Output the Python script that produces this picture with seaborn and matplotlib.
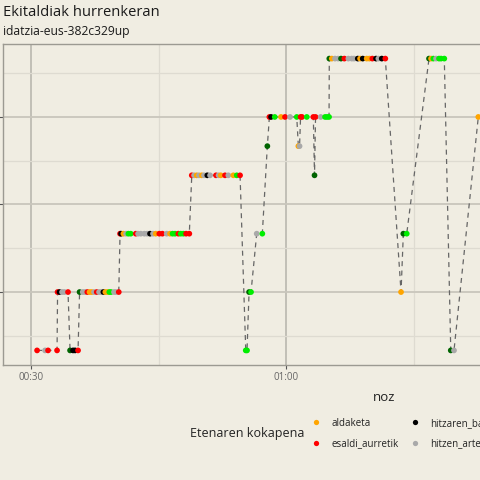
import matplotlib
matplotlib.use("Agg")
import matplotlib.pyplot as plt
import seaborn as sns
import pandas as pd
from matplotlib.ticker import FixedLocator, FuncFormatter, NullFormatter
from matplotlib.lines import Line2D

# ---- data (seconds since start, level, category code) ----
times = [
    30.71, 31.65, 32.0, 33.06,
    33.12, 33.35, 33.65, 33.94, 34.35,
    34.59, 34.94, 35.18, 35.53,
    35.71, 36.08, 36.35, 36.62, 36.88, 37.14, 37.41, 37.73, 38.0, 38.24, 38.51, 38.74, 39.0, 39.21, 39.41, 39.76, 40.0, 40.32,
    40.47, 40.59, 40.86, 41.18, 41.45, 41.73, 42.32, 42.59, 42.91, 43.33, 43.65, 44.0, 44.35, 44.67, 45.09, 45.45, 45.96, 46.35, 46.65, 46.94, 47.33, 47.61, 47.92, 48.24, 48.62,
    48.91, 49.18, 49.49, 49.76, 50.08, 50.35, 50.74, 51.06, 51.76, 52.06, 52.32, 52.82, 53.21, 53.8, 54.2, 54.59,
    55.26, 55.41,
    55.65, 55.88,
    56.55, 57.21,
    57.8,
    58.04, 58.24, 58.67, 59.41, 59.88, 60.47, 61.26,
    61.45, 61.59,
    61.71, 61.88, 62.44, 63.21,
    63.35,
    63.47, 64.08, 64.59, 64.82, 65.06,
    65.09, 65.38, 65.76, 66.12, 66.47, 66.86, 67.33, 67.73, 68.0, 68.44, 68.71, 69.02, 69.49, 69.8, 70.15, 70.59, 70.86, 71.26, 71.68,
    73.53,
    73.8, 74.2,
    76.82, 77.06, 77.33, 77.65, 78.0, 78.24, 78.62,
    79.38, 79.76,
    82.62,
]
levels = [
    1, 1, 1, 1,
    2, 2, 2, 2, 2,
    1, 1, 1, 1,
    2, 2, 2, 2, 2, 2, 2, 2, 2, 2, 2, 2, 2, 2, 2, 2, 2, 2,
    3, 3, 3, 3, 3, 3, 3, 3, 3, 3, 3, 3, 3, 3, 3, 3, 3, 3, 3, 3, 3, 3, 3, 3, 3,
    4, 4, 4, 4, 4, 4, 4, 4, 4, 4, 4, 4, 4, 4, 4, 4,
    1, 1,
    2, 2,
    3, 3,
    4.5,
    5, 5, 5, 5, 5, 5, 5,
    4.5, 4.5,
    5, 5, 5, 5,
    4,
    5, 5, 5, 5, 5,
    6, 6, 6, 6, 6, 6, 6, 6, 6, 6, 6, 6, 6, 6, 6, 6, 6, 6, 6,
    2,
    3, 3,
    6, 6, 6, 6, 6, 6, 6,
    1, 1,
    5,
]
codes = [
    "E", "T", "E", "E",
    "E", "B", "T", "T", "E",
    "P", "B", "B", "E",
    "P", "T", "T", "E", "A", "A", "T", "E", "T", "T", "B", "A", "A", "G", "G", "T", "T", "E",
    "E", "B", "A", "T", "G", "G", "E", "T", "T", "T", "T", "B", "T", "A", "E", "E", "T", "A", "G", "G", "E", "G", "G", "E", "E",
    "E", "T", "A", "T", "A", "T", "B", "T", "E", "T", "A", "E", "T", "A", "G", "E",
    "G", "G",
    "P", "G",
    "T", "G",
    "P",
    "E", "B", "G", "A", "E", "T", "G",
    "A", "T",
    "E", "E", "G", "E",
    "P",
    "E", "T", "G", "G", "G",
    "P", "A", "T", "T", "P", "E", "T", "T", "T", "B", "A", "B", "A", "A", "E", "B", "T", "B", "E",
    "A",
    "P", "G",
    "P", "A", "G", "T", "G", "G", "G",
    "P", "T",
    "A",
]
category_codes = ["A", "E", "B", "T", "P", "G"]
category_names = ["aldaketa", "esaldi_aurretik", "hitzaren_barruan",
                  "hitzen_artean", "paragrafo_aurretik", "testu_amaieran"]
category_colors = ["#FFA500", "#FF0000", "#000000", "#A9A9A9", "#006400", "#00EE00"]

title = "Ekitaldiak hurrenkeran"
subtitle = "idatzia-eus-382c329up"
x_label = "noz"
legend_title = "Etenaren kokapena"

name_of = dict(zip(category_codes, category_names))
df = pd.DataFrame({"t": times, "y": levels, "kind": [name_of[c] for c in codes]})
palette = dict(zip(category_names, category_colors))

BG = "#F0EDE2"
FONT = ["Open Sans", "DejaVu Sans"]

sns.set_theme(style="white")
plt.rcParams["font.family"] = FONT

fig = plt.figure(figsize=(4.8, 4.8), dpi=100, facecolor=BG)
ax = fig.add_axes([3 / 480, 1 - 365 / 480, 762 / 480, 321 / 480])
ax.set_facecolor(BG)

sns.lineplot(data=df, x="t", y="y", sort=False, estimator=None, ax=ax,
             color="#666666", linewidth=0.9, linestyle=(0, (4, 3.5)), zorder=2)
sns.scatterplot(data=df, x="t", y="y", hue="kind", hue_order=category_names,
                palette=palette, s=17, linewidth=0, ax=ax, legend=False, zorder=3)

ax.set_xlim(26.7, 116.35)
ax.set_ylim(0.75, 6.25)
ax.xaxis.set_major_locator(FixedLocator([30, 60, 90]))
ax.xaxis.set_minor_locator(FixedLocator([45, 75, 105]))
ax.yaxis.set_major_locator(FixedLocator([2, 3.5, 5]))
ax.yaxis.set_minor_locator(FixedLocator([1.25, 2.75, 4.25, 5.75]))
ax.xaxis.set_major_formatter(FuncFormatter(lambda v, p: f"{int(v) // 60:02d}:{int(v) % 60:02d}"))
ax.yaxis.set_major_formatter(NullFormatter())

ax.grid(which="major", axis="y", color="#C9C6BC", linewidth=1.3, zorder=0)
ax.grid(which="minor", axis="y", color="#DEDBD1", linewidth=0.9, zorder=0)
ax.grid(which="major", axis="x", color="#B5B3AB", linewidth=1.1, zorder=0)
ax.grid(which="minor", axis="x", color="#DEDBD1", linewidth=0.9, zorder=0)
ax.set_axisbelow(True)

ax.tick_params(axis="both", which="major", length=3, width=0.8, color="#555555",
               labelsize=7, labelcolor="#666666", pad=2, bottom=True, left=True)
ax.tick_params(axis="both", which="minor", length=0)
for sp in ax.spines.values():
    sp.set_color("#9C9A92")
    sp.set_linewidth(1.0)

ax.set_xlabel(x_label, fontsize=9.5, color="#222222", labelpad=6)
ax.set_ylabel("")

fig.text(3 / 480, 1 - 12 / 480, title, fontsize=10.6, va="center", ha="left", color="#1a1a1a")
fig.text(3 / 480, 1 - 31 / 480, subtitle, fontsize=8.7, va="center", ha="left", color="#1a1a1a")

handles = [Line2D([0], [0], marker="o", linestyle="", markersize=3.8,
                  markerfacecolor=c, markeredgewidth=0) for c in category_colors]
fig.legend(handles, category_names, ncol=3, loc="center left",
           bbox_to_anchor=(311.5 / 480, 1 - 433.5 / 480), frameon=False,
           fontsize=7, handlelength=1.0, handletextpad=1.05, columnspacing=1.15,
           labelspacing=0.95, borderpad=0, borderaxespad=0, labelcolor="#222222")
fig.text(190 / 480, 1 - 433 / 480, legend_title, fontsize=9, va="center", ha="left", color="#222222")

fig.savefig("out.png", dpi=100, facecolor=BG)
